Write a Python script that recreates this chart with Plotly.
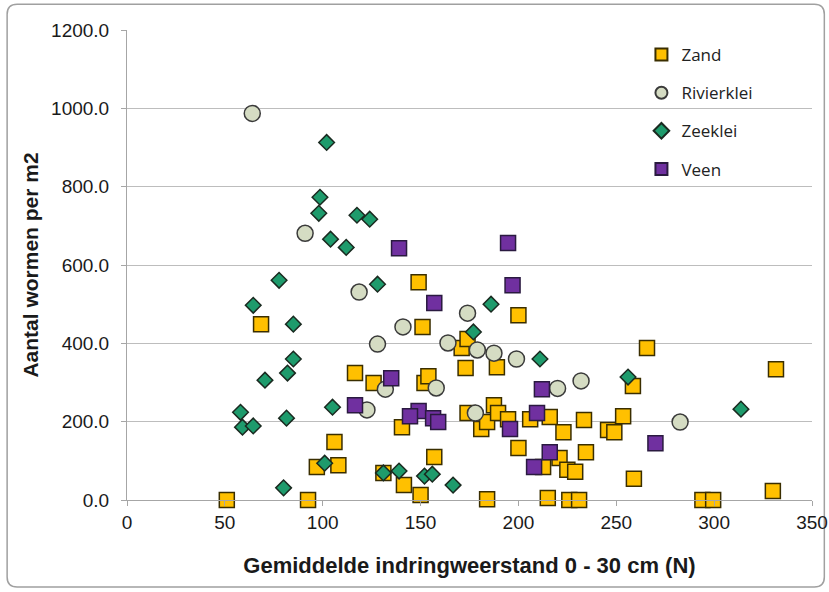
import plotly.graph_objects as go

# ---- data ----
zand_x = [51, 92.5, 68.5, 97, 106, 108, 116.5, 126, 131, 140.5, 141.5, 149, 150, 151, 152, 154, 157,
          171, 173, 174, 174, 181, 184, 184, 187.5, 189, 189.6, 194.7, 200, 200, 206, 212.6, 215, 216,
          221, 223, 225, 229, 226, 231, 233.5, 234.5, 245.8, 249, 253.5, 258.5, 259, 265.7, 294, 299.5,
          330, 331.6]
zand_y = [0, 0, 449, 84, 148, 89, 324, 299, 69, 186, 38, 556, 13, 442, 299, 316, 110,
          388, 337, 411, 222, 181, 199, 2, 242, 339, 222, 206, 472, 133, 206, 84, 5, 212,
          107, 173, 77, 72, 0, 0, 204, 122, 179, 173, 214, 291, 54, 388, 0, 0,
          23, 334]

rivier_x = [64, 91, 118.6, 141, 128, 164, 174, 179, 187.5, 199, 132, 158, 220, 232, 122.6, 178, 282.6]
rivier_y = [987, 681, 531, 442, 398, 401, 477, 383, 375, 360, 283, 286, 285, 304, 230, 222, 199]

zeeklei_x = [102, 98.6, 98, 117.5, 124, 104, 112, 77.7, 128, 64.5, 85, 85, 82, 70.5, 105, 58, 59, 64.5,
             81.5, 101, 80, 186, 177, 211, 131, 139, 152, 156, 166.6, 256, 313.7]
zeeklei_y = [913, 773, 732, 727, 717, 666, 645, 561, 551, 497, 449, 360, 324, 306, 237, 224, 186, 189,
             209, 94, 31, 500, 429, 360, 69, 74, 61, 66, 38, 314, 232]

veen_x = [139, 194.7, 157, 197, 135, 116.5, 149, 144.6, 156.4, 159, 195.7, 212, 209.5, 216, 208, 270]
veen_y = [643, 656, 503, 548, 311, 242, 227, 214, 209, 199, 181, 283, 222, 122, 84, 145]

series_names = ["Zand", "Rivierklei", "Zeeklei", "Veen"]
x_ticks = [0, 50, 100, 150, 200, 250, 300, 350]
y_ticks = [0, 200, 400, 600, 800, 1000, 1200]

FONT = "Liberation Sans, Arial, sans-serif"

fig = go.Figure()
styles = [
    (zand_x, zand_y, "square", 15, "#FFC000", "#3A2E00"),
    (rivier_x, rivier_y, "circle", 16, "#D5DCC3", "#3A3A3A"),
    (zeeklei_x, zeeklei_y, "diamond", 12, "#1E9B6C", "#1A2A20"),
    (veen_x, veen_y, "square", 15, "#7030A0", "#2A1A40"),
]
for i, (xs, ys, sym, size, fill, edge) in enumerate(styles):
    fig.add_trace(go.Scatter(
        x=xs, y=ys, mode="markers", name=series_names[i], legendgroup=series_names[i],
        cliponaxis=False,
        marker=dict(symbol=sym, size=size, color=fill, line=dict(color=edge, width=1.5)),
    ))

fig.update_layout(
    width=829, height=592,
    margin=dict(l=127, r=17, t=30, b=92, autoexpand=False),
    paper_bgcolor="white", plot_bgcolor="white",
    font=dict(family=FONT, size=19, color="#1a1a1a"),
    showlegend=True,
    legend=dict(x=0.751, y=0.985, xanchor="left", yanchor="top",
                bgcolor="rgba(0,0,0,0)",
                font=dict(family="Open Sans, sans-serif", size=17, color="#222"),
                tracegroupgap=13, itemsizing="constant"),
    xaxis=dict(range=[0, 350], tickvals=x_ticks, showgrid=False, zeroline=False,
               showline=True, linecolor="#A6A6A6", linewidth=1,
               ticks="outside", ticklen=5, tickcolor="#A6A6A6",
               tickfont=dict(size=19), automargin=False,
               title=dict(text="<b>Gemiddelde indringweerstand 0 - 30 cm (N)</b>",
                          font=dict(size=22), standoff=25)),
    yaxis=dict(range=[0, 1200], tickvals=y_ticks, tickformat=".1f", showgrid=True,
               gridcolor="#BDBDBD", gridwidth=1, zeroline=False,
               showline=True, linecolor="#A6A6A6", linewidth=1,
               ticks="outside", ticklen=5, tickcolor="#A6A6A6",
               tickfont=dict(size=19), automargin=False, ticklabelstandoff=8,
               title=dict(text="<b>Aantal wormen per m2</b>", font=dict(size=21), standoff=6)),
)

# rounded outer frame (paper coordinates; plot area is 685 x 470 px)
x0, x1, y0, y1 = -0.175, 1.018, -0.185, 1.055
rx, ry = 10 / 685, 10 / 470
path = (f"M {x0+rx},{y1} L {x1-rx},{y1} Q {x1},{y1} {x1},{y1-ry} "
        f"L {x1},{y0+ry} Q {x1},{y0} {x1-rx},{y0} L {x0+rx},{y0} "
        f"Q {x0},{y0} {x0},{y0+ry} L {x0},{y1-ry} Q {x0},{y1} {x0+rx},{y1} Z")
fig.add_shape(type="path", xref="paper", yref="paper", path=path,
              line=dict(color="#A0A0A0", width=1.5), fillcolor="rgba(0,0,0,0)", layer="below")

fig.write_html("out.html")
